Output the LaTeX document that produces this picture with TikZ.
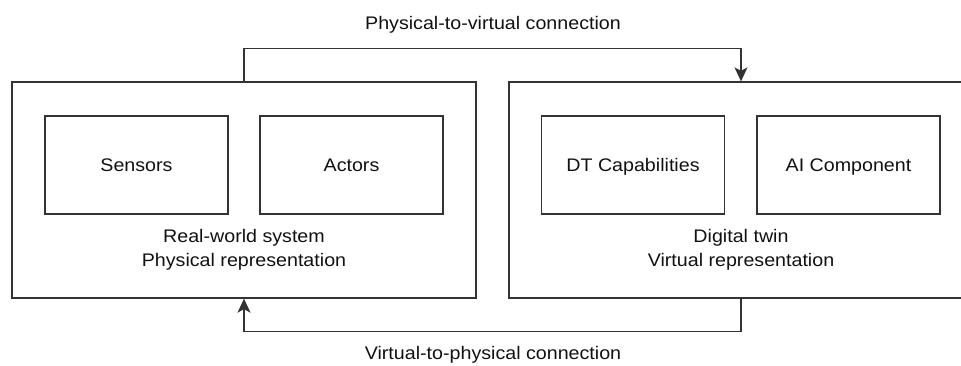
\documentclass[tikz,border=0pt]{standalone}
\usepackage{fontspec}
\setmainfont[FakeStretch=1.08]{Liberation Sans}
\usetikzlibrary{arrows.meta}
\definecolor{LineClr}{HTML}{333333}
\definecolor{TextClr}{HTML}{111111}

\begin{document}
\begin{tikzpicture}[x=1pt,y=-1pt,
  every node/.style={text=TextClr,font=\fontsize{18.2}{24}\selectfont},
  outerbox/.style={draw=LineClr,line width=1.3pt,minimum width=464pt,minimum height=216pt,inner sep=0pt},
  unitbox/.style={draw=LineClr,line width=1.3pt,minimum width=183pt,minimum height=98pt,inner sep=0pt,
    text height=13.3pt,text depth=0pt},
  caption/.style={align=center,inner sep=0pt},
  link/.style={draw=LineClr,line width=1.3pt,-{Stealth[length=14pt,width=13pt,inset=3.5pt]}}]
\useasboundingbox (0,0) rectangle (961,365);
\begin{scope}
\clip (0,0) rectangle (961,365);

\node[outerbox] (real) at (244,190) {};
\node[outerbox] (twin) at (741,190) {};

\node[unitbox] (sensors) at (136.5,165) {Sensors};
\node[unitbox] (actors)  at (351.5,165) {Actors};
\node[unitbox] (dtcap)   at (633,165)   {DT Capabilities};
\node[unitbox] (aicomp)  at (848.5,165) {AI Component};

\node[caption] (realtxt) at (244,250) {Real-world system\\Physical representation};
\node[caption] (twintxt) at (741,250) {Digital twin\\Virtual representation};

% connections between both sides
\draw[link] (real.north) -- ++(0,-33) -| (twin.north);
\draw[link] (twin.south) -- ++(0,33) -| (real.south);

\node[anchor=base] (p2v) at (493,29)  {Physical-to-virtual connection};
\node[anchor=base] (v2p) at (493,359) {Virtual-to-physical connection};
\end{scope}
\end{tikzpicture}
\end{document}
